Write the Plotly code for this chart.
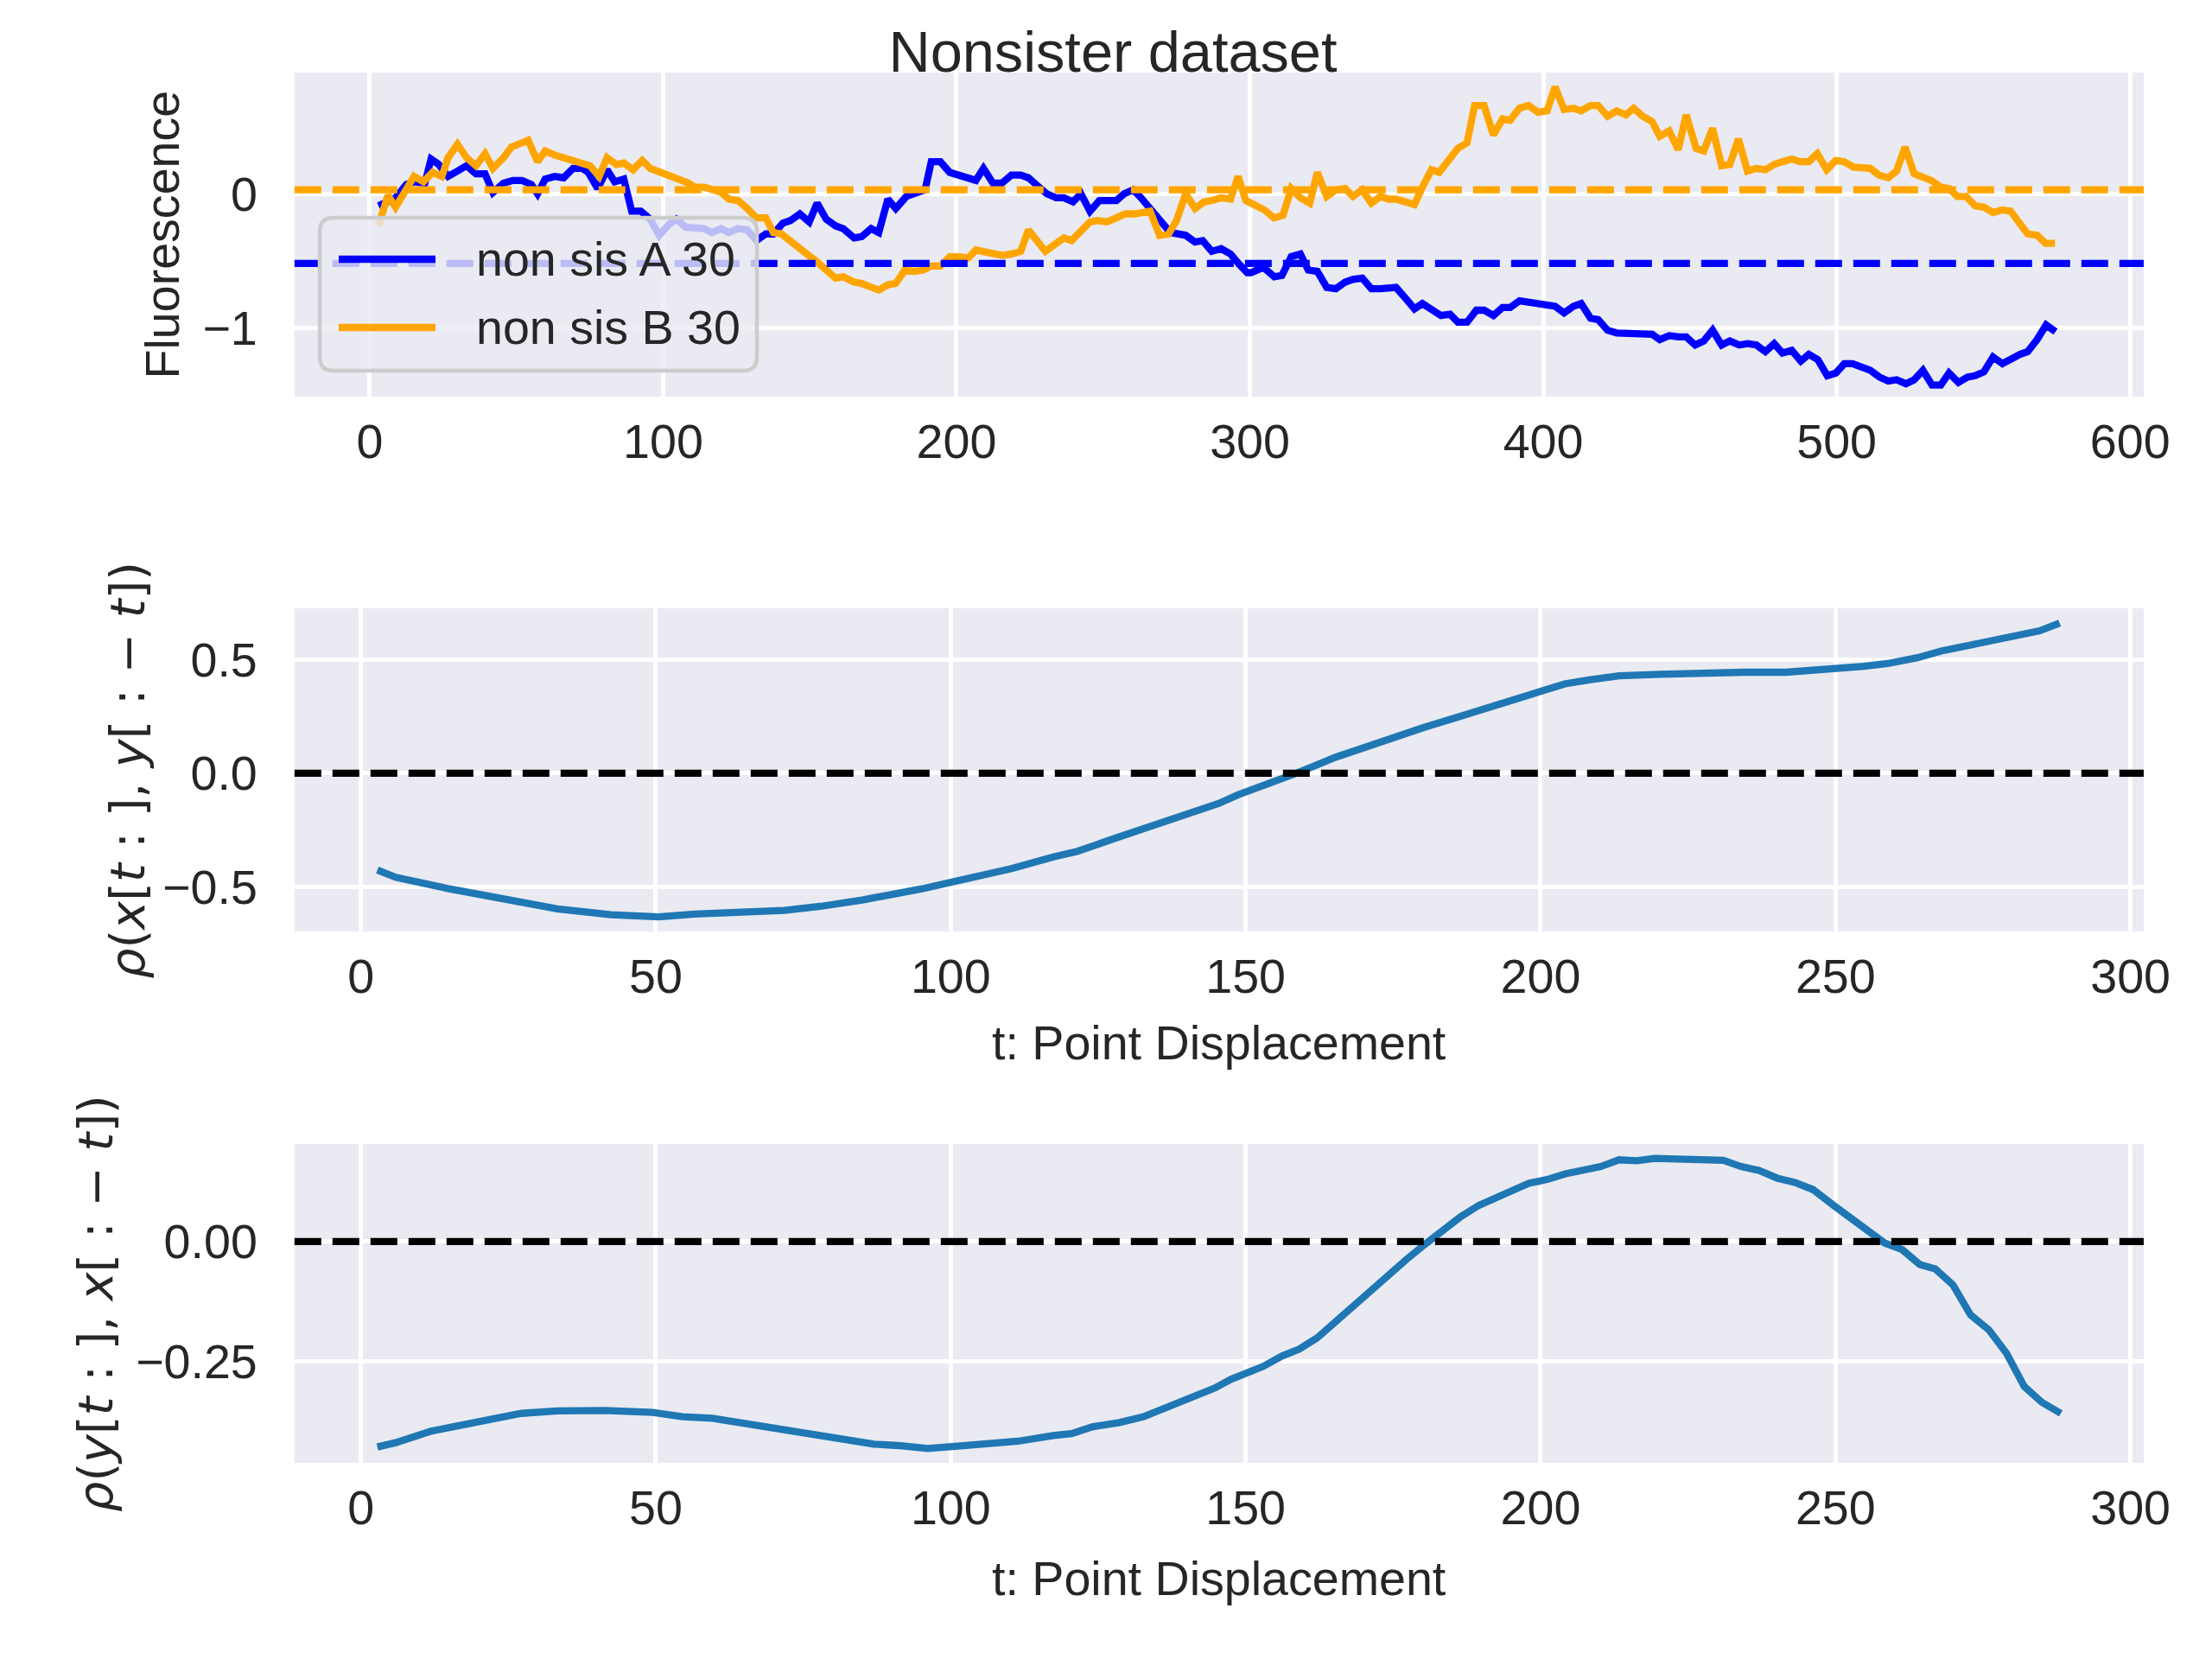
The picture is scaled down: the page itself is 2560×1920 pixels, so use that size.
import plotly.graph_objects as go

# ---- top panel: fluorescence traces ----
a_x = [3.0, 8.8, 12.5, 15.1, 18.8, 20.9, 23.5, 26.7, 29.9, 33.0, 36.2, 39.3, 42.0, 45.6, 48.8, 51.9, 55.1, 57.2,
       59.8, 63.0, 66.1, 69.3, 72.4, 74.5, 77.7, 80.9, 83.5, 86.6, 89.3, 92.4, 95.6, 98.7, 101.9, 104.5, 107.7,
       110.8, 114.0, 116.6, 119.8, 122.4, 125.5, 128.7, 131.8, 135.0, 137.6, 140.8, 143.4, 146.6,
       149.8, 152.5, 155.6, 158.8, 161.4, 165.1, 167.7, 170.9, 173.5, 176.6, 179.3, 182.9, 185.6, 189.3, 191.4,
       194.5, 197.7, 200.3, 203.5, 206.6, 209.2, 212.4, 215.5, 218.7, 221.9, 224.5, 227.6, 230.8, 234.0, 236.6,
       239.7, 242.4, 245.5, 248.7, 251.3, 254.5, 257.1, 260.2, 262.9, 266.0, 269.7, 272.9, 278.1, 281.3, 283.9,
       287.0, 290.2, 293.4, 296.5, 299.1,
       300.4, 304.6, 308.3, 310.9, 314.1, 317.2, 319.9, 323.0, 326.2, 329.3, 332.5, 335.1, 338.3, 341.4, 344.6,
       347.2, 349.8, 353.0, 356.1, 358.8, 361.9, 365.1, 368.2, 370.9, 374.0, 377.2, 379.8, 383.0, 386.1, 388.7,
       391.9, 395.0, 398.2, 401.3, 404.0, 407.1, 410.3, 412.9, 416.1, 418.7, 421.9, 425.0, 428.2, 431.3, 434.0,
       437.1, 439.7, 442.9, 446.0, 448.7,
       451.8, 454.7, 457.7, 460.8, 463.6, 466.8, 469.6, 472.6, 475.7, 478.7, 481.5, 484.7, 487.8, 490.5, 493.6,
       496.8, 499.7, 502.6, 505.4, 508.3, 511.5, 514.6, 517.6, 520.4, 523.6, 526.4, 529.4, 532.5, 535.5, 538.3,
       541.5, 544.6, 547.2, 550.2, 553.3, 556.5, 559.3, 562.5, 565.1, 568.3, 571.4, 574.6]
a_y = [-0.09, -0.03, 0.07, 0.09, 0.08, 0.26, 0.22, 0.13, 0.17, 0.21, 0.15, 0.15, 0.01, 0.08, 0.10, 0.10, 0.07, 0.00,
       0.11, 0.13, 0.12, 0.19, 0.19, 0.16, 0.04, 0.18, 0.09, 0.11, -0.13, -0.13, -0.19, -0.31, -0.23, -0.19, -0.25,
       -0.25, -0.26, -0.29, -0.26, -0.29, -0.26, -0.27, -0.35, -0.30, -0.30, -0.22, -0.20, -0.15,
       -0.21, -0.07, -0.19, -0.24, -0.26, -0.33, -0.32, -0.26, -0.29, -0.04, -0.11, -0.02, 0.00, 0.03, 0.24,
       0.24, 0.16, 0.14, 0.11, 0.10, 0.19, 0.08, 0.08, 0.14, 0.14, 0.12, 0.06, 0.00, -0.03, -0.03,
       -0.06, 0.00, -0.13, -0.05, -0.05, -0.05, 0.00, 0.03, -0.03, -0.11, -0.22, -0.29, -0.31, -0.36, -0.35,
       -0.43, -0.41, -0.45, -0.53, -0.59,
       -0.59, -0.55, -0.62, -0.61, -0.47, -0.45, -0.57, -0.58, -0.70, -0.71, -0.66, -0.64, -0.63, -0.71, -0.71,
       -0.70, -0.70, -0.78, -0.86, -0.82, -0.87, -0.91, -0.90, -0.96, -0.96, -0.87, -0.87, -0.91, -0.85, -0.85,
       -0.80, -0.81, -0.83, -0.84, -0.84, -0.89, -0.84, -0.82, -0.93, -0.94, -1.02, -1.04, -1.04, -1.04, -1.05,
       -1.05, -1.09, -1.06, -1.07, -1.07,
       -1.13, -1.10, -1.02, -1.13, -1.10, -1.13, -1.12, -1.13, -1.18, -1.12, -1.19, -1.17, -1.25, -1.20, -1.24,
       -1.36, -1.34, -1.27, -1.27, -1.30, -1.32, -1.37, -1.40, -1.39, -1.42, -1.39, -1.32, -1.43, -1.43, -1.34,
       -1.41, -1.37, -1.36, -1.33, -1.22, -1.27, -1.23, -1.20, -1.18, -1.09, -0.98, -1.03]

b_x = [3.0, 6.2, 8.8, 12.0, 15.1, 18.3, 21.4, 24.6, 26.7, 29.9, 33.0, 36.2, 39.3, 42.0, 45.6, 48.3, 51.4, 54.0,
       57.2, 59.8, 63.0, 66.1, 69.3, 71.9, 75.1, 78.2, 80.9, 84.0, 86.6, 89.8, 92.9, 95.6, 99.3, 102.4, 105.6,
       108.7, 110.8, 114.0, 117.1, 119.8, 122.4, 125.5, 128.7, 131.8, 135.0, 137.6, 140.3, 143.4, 146.6,
       149.8, 152.5, 155.6, 158.8, 161.4, 165.1, 167.7, 170.3, 173.5, 176.6, 179.3, 182.4, 185.6, 188.7, 191.4,
       194.5, 197.7, 200.8, 204.0, 206.6, 209.8, 212.9, 215.6, 218.7, 221.9, 224.5, 227.6, 230.3, 233.4, 236.6,
       239.2, 242.4, 245.5, 248.1, 251.3, 254.5, 257.6, 260.8, 263.4, 266.0, 269.2, 272.3, 275.0, 278.1, 281.3,
       284.4, 287.1, 290.2, 293.4, 296.0, 298.6,
       301.8, 304.9, 308.2, 311.3, 314.1, 317.2, 320.4, 323.0, 326.2, 329.3, 332.5, 335.1, 338.3, 341.4, 344.6,
       347.2, 349.8, 353.0, 356.1, 358.8, 361.9, 364.5, 367.7, 370.9, 374.0, 376.6, 379.8, 383.0, 386.1, 388.7,
       391.9, 395.0, 398.2, 401.3, 404.0, 407.1, 410.3, 412.9, 416.1, 418.7, 421.9, 425.0, 428.2, 430.8, 433.9,
       437.1, 439.7, 442.9, 446.0, 448.7,
       452.1, 454.7, 457.7, 460.8, 463.6, 466.5, 469.6, 472.6, 475.7, 478.7, 481.5, 484.7, 487.5, 490.5, 493.4,
       496.6, 499.7, 502.6, 505.7, 508.9, 511.5, 514.4, 517.6, 520.4, 523.3, 526.4, 529.4, 532.3, 535.5, 538.3,
       541.1, 544.1, 547.2, 550.2, 553.3, 556.5, 559.3, 562.2, 565.1, 568.3, 571.2, 574.4]
b_y = [-0.24, -0.01, -0.10, 0.02, 0.13, 0.09, 0.16, 0.13, 0.27, 0.37, 0.27, 0.21, 0.30, 0.19, 0.27, 0.35, 0.37, 0.40,
       0.24, 0.32, 0.29, 0.27, 0.24, 0.22, 0.21, 0.13, 0.27, 0.22, 0.23, 0.18, 0.25, 0.19, 0.16, 0.13, 0.10,
       0.08, 0.05, 0.05, 0.03, 0.01, -0.04, -0.05, -0.11, -0.18, -0.18, -0.29, -0.30, -0.35, -0.40,
       -0.46, -0.51, -0.57, -0.63, -0.62, -0.66, -0.67, -0.69, -0.72, -0.68, -0.67, -0.57, -0.58, -0.57, -0.54,
       -0.54, -0.47, -0.47, -0.48, -0.42, -0.43, -0.45, -0.46, -0.45, -0.43, -0.27, -0.36, -0.43, -0.38, -0.33,
       -0.35, -0.27, -0.21, -0.20, -0.21, -0.18, -0.15, -0.15, -0.14, -0.13, -0.31, -0.30, -0.20, 0.00, -0.11,
       -0.06, -0.05, -0.03, -0.04, 0.13, -0.05,
       -0.08, -0.12, -0.18, -0.16, 0.04, -0.03, -0.07, 0.16, -0.02, 0.03, 0.04, -0.02, 0.03, -0.07, -0.02,
       -0.04, -0.04, -0.06, -0.08, 0.05, 0.18, 0.16, 0.25, 0.34, 0.38, 0.66, 0.66, 0.44, 0.56, 0.55,
       0.64, 0.66, 0.61, 0.62, 0.80, 0.63, 0.64, 0.62, 0.66, 0.66, 0.58, 0.62, 0.59, 0.64, 0.58,
       0.54, 0.43, 0.47, 0.33, 0.59,
       0.34, 0.32, 0.49, 0.21, 0.22, 0.41, 0.17, 0.19, 0.18, 0.22, 0.24, 0.26, 0.24, 0.24, 0.30,
       0.18, 0.25, 0.24, 0.20, 0.20, 0.19, 0.14, 0.12, 0.17, 0.35, 0.15, 0.13, 0.10, 0.05, 0.04,
       -0.02, -0.02, -0.09, -0.10, -0.14, -0.12, -0.13, -0.21, -0.30, -0.31, -0.37, -0.37]

mean_a = -0.52
mean_b = 0.03

# ---- middle panel: rho(x[t:], y[:-t]) ----
xy_t = [2.8, 5.9, 15.0, 26.2, 33.3, 42.4, 50.5, 56.6, 65.7, 71.8, 77.9, 85.0, 95.1, 100.2, 110.3, 117.4, 121.5,
        127.6, 133.7, 140.8, 145.4, 148.7, 151.5, 158.6, 165.2, 171.8, 176.8, 180.4, 186.4, 192.0, 195.0, 199.1,
        204.1, 208.2, 213.3, 220.3, 228.4, 234.5, 241.6, 246.7, 249.7, 254.8, 258.8, 263.9, 267.9, 271.0, 275.5,
        280.1, 284.6, 288.0]
xy_rho = [-0.425, -0.457, -0.508, -0.565, -0.596, -0.622, -0.631, -0.619, -0.613, -0.603, -0.585, -0.557, -0.508,
          -0.478, -0.419, -0.368, -0.343, -0.288, -0.235, -0.174, -0.133, -0.095, -0.070, 0.000, 0.070, 0.131,
          0.171, 0.203, 0.250, 0.296, 0.321, 0.352, 0.393, 0.410, 0.428, 0.435, 0.442, 0.444, 0.444, 0.453, 0.457,
          0.470, 0.482, 0.508, 0.537, 0.555, 0.574, 0.600, 0.626, 0.660]

# ---- bottom panel: rho(y[t:], x[:-t]) ----
yx_t = [2.8, 5.9, 11.9, 17.0, 22.1, 27.2, 33.3, 41.4, 49.5, 54.6, 59.6, 65.7, 70.8, 74.8, 80.9, 87.0, 91.1, 96.1,
        101.2, 111.4, 117.4, 120.5, 124.0, 128.6, 132.7, 137.7, 141.8, 144.8, 147.5, 150.0, 153.0, 156.1, 159.1,
        162.2, 165.2, 168.2, 171.3, 174.3, 177.3, 180.4, 183.4, 186.4, 189.5, 192.0, 195.0, 198.0, 201.1, 204.2,
        207.2, 210.2, 213.3, 216.3, 219.3, 222.4, 225.4, 228.4, 231.0, 234.0, 237.0, 240.1, 243.1, 246.2, 249.7,
        252.7, 255.8, 258.3, 261.3, 264.3, 266.9, 269.9, 272.9, 276.0, 279.0, 282.0, 285.0, 288.2]
yx_rho = [-0.428, -0.419, -0.395, -0.382, -0.368, -0.358, -0.353, -0.352, -0.356, -0.365, -0.368, -0.380, -0.389,
          -0.396, -0.410, -0.422, -0.425, -0.431, -0.426, -0.416, -0.404, -0.400, -0.386, -0.377, -0.365, -0.341,
          -0.323, -0.305, -0.287, -0.275, -0.260, -0.239, -0.224, -0.200, -0.167, -0.139, -0.102, -0.069, -0.037,
          -0.006, 0.024, 0.051, 0.075, 0.087, 0.105, 0.121, 0.129, 0.141, 0.148, 0.156, 0.170, 0.168, 0.173, 0.173,
          0.170, 0.170, 0.169, 0.156, 0.148, 0.132, 0.123, 0.108, 0.075, 0.047, 0.018, -0.003, -0.017, -0.048,
          -0.057, -0.090, -0.153, -0.184, -0.233, -0.302, -0.335, -0.358]

title = "Nonsister dataset"
xlabel = "t: Point Displacement"
ylabel_top = "Fluorescence"
ylabel_mid = "<i>ρ</i>(<i>x</i>[<i>t</i> : ], <i>y</i>[ : − <i>t</i>])"
ylabel_bot = "<i>ρ</i>(<i>y</i>[<i>t</i> : ], <i>x</i>[ : − <i>t</i>])"
legend_names = ["non sis A 30", "non sis B 30"]
legend_colors = ["blue", "orange"]

W, H = 2560, 1920
FS = 55.6          # 10pt at 400 dpi
LW = 8.3           # 1.5pt at 400 dpi
DASH = "31px,13px"
TXT = "#262626"
BG = "#EAEAF2"
FONT = "Liberation Sans, Arial, sans-serif"

fig = go.Figure()
fig.add_trace(go.Scatter(x=a_x, y=a_y, mode="lines", name=legend_names[0],
                         line=dict(color=legend_colors[0], width=LW), xaxis="x", yaxis="y"))
fig.add_trace(go.Scatter(x=b_x, y=b_y, mode="lines", name=legend_names[1],
                         line=dict(color=legend_colors[1], width=LW), xaxis="x", yaxis="y"))
fig.add_trace(go.Scatter(x=xy_t, y=xy_rho, mode="lines",
                         line=dict(color="#1f77b4", width=LW), xaxis="x2", yaxis="y2"))
fig.add_trace(go.Scatter(x=yx_t, y=yx_rho, mode="lines",
                         line=dict(color="#1f77b4", width=LW), xaxis="x3", yaxis="y3"))

# horizontal reference lines
for yv, col, ax in [(mean_a, "blue", "y"), (mean_b, "orange", "y"), (0, "black", "y2"), (0, "black", "y3")]:
    xr = "x" if ax == "y" else "x" + ax[1:]
    fig.add_shape(type="line", xref=xr + " domain", yref=ax, x0=0, x1=1, y0=yv, y1=yv,
                  line=dict(color=col, width=LW, dash=DASH), layer="above")

# legend box drawn like matplotlib's (semi-transparent, rounded)
lx0, lx1 = 362 / W, 868 / W
ly0, ly1 = 1 - 421 / H, 1 - 244 / H
rx, ry = 16 / W, 16 / H
box = (f"M{lx0 + rx},{ly1} L{lx1 - rx},{ly1} Q{lx1},{ly1} {lx1},{ly1 - ry} "
       f"L{lx1},{ly0 + ry} Q{lx1},{ly0} {lx1 - rx},{ly0} L{lx0 + rx},{ly0} "
       f"Q{lx0},{ly0} {lx0},{ly0 + ry} L{lx0},{ly1 - ry} Q{lx0},{ly1} {lx0 + rx},{ly1} Z")
fig.add_shape(type="path", path=box, xref="paper", yref="paper", layer="above",
              fillcolor="rgba(234,234,242,0.8)", line=dict(color="#cccccc", width=4.5))
for i, (name, col) in enumerate(zip(legend_names, legend_colors)):
    yy = 1 - (292 + 79 * i) / H
    fig.add_shape(type="line", xref="paper", yref="paper", x0=384 / W, x1=496 / W, y0=yy, y1=yy,
                  line=dict(color=col, width=LW), layer="above")
    fig.add_annotation(text=name, x=541 / W, y=yy, xref="paper", yref="paper", showarrow=False,
                       xanchor="left", yanchor="middle", font=dict(size=FS, color=TXT, family=FONT))

dom_x = [0.130, 0.966]
axis_common = dict(showgrid=True, gridcolor="white", gridwidth=5, zeroline=False, showline=False,
                   automargin=False, ticks="", tickfont=dict(size=FS, color=TXT, family=FONT))
xcommon = dict(ticklabelstandoff=14, **axis_common)
ycommon = dict(ticklabelstandoff=42, **axis_common)

fig.update_layout(
    width=W, height=H,
    margin=dict(l=0, r=0, t=0, b=0),
    paper_bgcolor="white", plot_bgcolor=BG,
    font=dict(family=FONT, size=FS, color=TXT),
    title=dict(text=title, x=0.5, xanchor="center", y=0.985, yanchor="top",
               font=dict(size=66.7, color=TXT, family=FONT)),
    xaxis=dict(domain=dom_x, range=[-25.65, 604.65], dtick=100, anchor="y", **xcommon),
    yaxis=dict(domain=[0.7651, 0.9604], range=[-1.516, 0.906], dtick=1, anchor="x", **ycommon),
    xaxis2=dict(domain=dom_x, range=[-11.25, 302.25], dtick=50, anchor="y2", **xcommon),
    yaxis2=dict(domain=[0.4426, 0.6375], range=[-0.696, 0.725], dtick=0.5, tickformat=".1f",
                anchor="x2", **ycommon),
    xaxis3=dict(domain=dom_x, range=[-11.25, 302.25], dtick=50, anchor="y3", **xcommon),
    yaxis3=dict(domain=[0.1224, 0.3146], range=[-0.461, 0.203], dtick=0.25, tickformat=".2f",
                anchor="x3", **ycommon),
    showlegend=False,
)

ann = dict(showarrow=False, xref="paper", yref="paper", font=dict(size=FS, color=TXT, family=FONT))
fig.add_annotation(text=ylabel_top, x=0.0705, y=0.863, textangle=-90, xanchor="center", yanchor="middle", **ann)
math_font = dict(size=FS, color=TXT, family="DejaVu Sans")
fig.add_annotation(text=ylabel_mid, x=0.0545, y=0.5400, textangle=-90, xanchor="center", yanchor="middle",
                   showarrow=False, xref="paper", yref="paper", font=math_font)
fig.add_annotation(text=ylabel_bot, x=0.0400, y=0.2185, textangle=-90, xanchor="center", yanchor="middle",
                   showarrow=False, xref="paper", yref="paper", font=math_font)
fig.add_annotation(text=xlabel, x=0.548, y=0.3755, xanchor="center", yanchor="middle", **ann)
fig.add_annotation(text=xlabel, x=0.548, y=0.0526, xanchor="center", yanchor="middle", **ann)

fig.write_html("out.html")
